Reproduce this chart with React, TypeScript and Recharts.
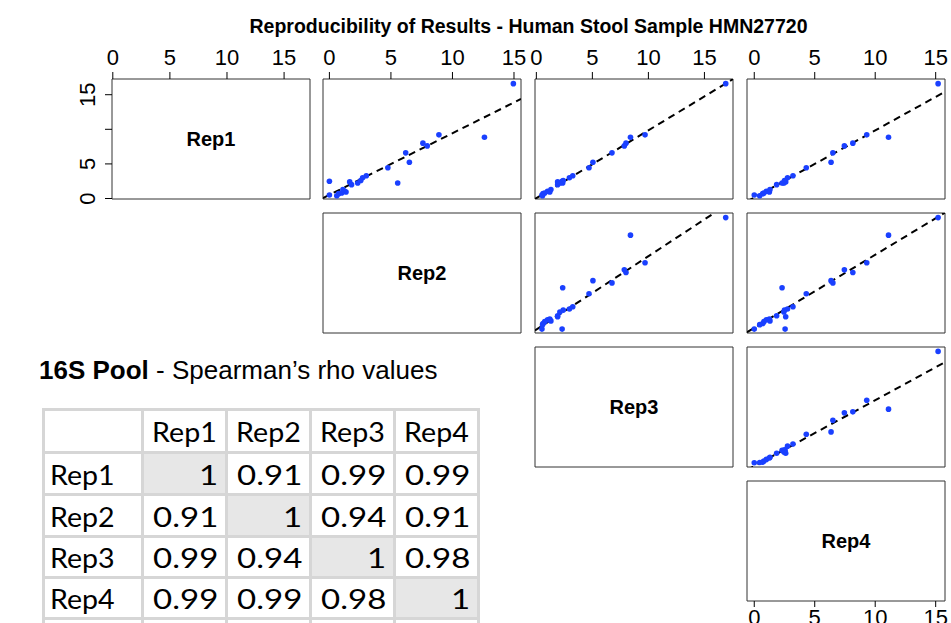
import React from "react";
import {
  ScatterChart,
  Scatter,
  XAxis,
  YAxis,
  ReferenceLine,
  ReferenceArea,
} from "recharts";

const FONT = "'Liberation Sans', Arial, Helvetica, sans-serif";
const TABLE_FONT = "Lato, 'Open Sans', sans-serif";

const reps = ["Rep1", "Rep2", "Rep3", "Rep4"];

// abundance of each taxon (same order in every replicate)
const rep1 = [16.6, 8.85, 9.2, 8.0, 7.6, 6.6, 5.25, 4.45, 2.25, 2.5, 3.3, 3.0, 2.6, 2.4, 2.0, 2.25, 0.5, 0.7, 1.05, 0.95, 0.8, 0.4, 1.3];
const rep2 = [14.95, 12.6, 8.9, 7.6, 7.95, 6.2, 6.5, 4.75, 5.55, 0.0, 3.0, 2.7, 2.55, 1.65, 1.8, 2.3, 0.0, 0.75, 1.25, 1.35, 1.0, 0.6, 1.1];
const rep3 = [16.9, 8.4, 9.7, 8.0, 7.85, 6.75, 5.05, 4.7, 2.35, 2.3, 3.25, 2.95, 2.4, 1.9, 1.9, 2.1, 0.5, 0.6, 1.0, 1.2, 0.75, 0.55, 1.3];
const rep4 = [15.2, 11.1, 9.3, 8.15, 7.45, 6.5, 6.35, 4.3, 2.3, 2.55, 3.2, 2.75, 2.5, 2.6, 1.85, 2.45, 0.0, 0.7, 1.0, 1.25, 0.8, 0.45, 1.3];
const repValues = [rep1, rep2, rep3, rep4];

// axis range of each replicate (pairs() style, 4% padding)
const domainLo = [-0.07, -0.52, -0.12, -0.6];
const domainHi = [17.27, 15.57, 17.55, 15.77];
const axisTicks = [0, 5, 10, 15];

// dashed fit lines of the upper panels (y = row replicate, x = col replicate)
const fitRows = [0, 0, 0, 1, 1, 2];
const fitCols = [1, 2, 3, 2, 3, 3];
const fitSlopes = [0.89, 0.98, 0.97, 0.985, 0.98, 0.97];
const fitIntercepts = [0.53, 0.05, 0.14, -0.07, 0.17, 0.02];

// Spearman's rho table
const rhoRep1 = [1, 0.91, 0.99, 0.99];
const rhoRep2 = [0.91, 1, 0.94, 0.91];
const rhoRep3 = [0.99, 0.94, 1, 0.98];
const rhoRep4 = [0.99, 0.99, 0.98, 1];
const rhoRows = [rhoRep1, rhoRep2, rhoRep3, rhoRep4];

// layout
const panelLeft = [112, 323, 535, 747];
const panelTop = [79, 213, 347, 481];
const PW = 198;
const PH = 120;

const colEdges = [43, 142, 226, 310, 394, 478];
const rowEdges = [409, 452, 494, 536, 577, 618, 660];

const Dot = (props: any) => (
  <circle cx={props.cx} cy={props.cy} r={2.8} fill="#1a40ff" />
);

// rotated tick labels on the left axis, R skips the "10" label (overlap)
const RotTick = (props: any) => {
  const { x, y, payload } = props;
  if (payload.value === 10) return null;
  return (
    <text
      transform={`translate(${x},${y}) rotate(-90)`}
      textAnchor="middle"
      fontSize={22}
      fontFamily={FONT}
      fill="#000"
    >
      {payload.value}
    </text>
  );
};

function Panel({ row, col }: { row: number; col: number }) {
  const hasTop = row === 0;
  const hasLeft = row === 0 && col === 0;
  const hasRight = col === 3;
  const hasBottom = row === 3 && col === 3;
  const mt = hasTop ? 40 : 0;
  const ml = hasLeft ? 45 : 0;
  const mr = hasRight ? 6 : 0;
  const mb = hasBottom ? 22 : 0;

  const xlo = domainLo[col];
  const xhi = domainHi[col];
  const ylo = domainLo[row];
  const yhi = domainHi[row];
  const diag = row === col;

  const points = diag
    ? []
    : repValues[col].map((v, i) => ({ x: v, y: repValues[row][i] }));

  const k = fitRows.findIndex((r, i) => r === row && fitCols[i] === col);
  const segment =
    k >= 0
      ? [
          { x: xlo, y: fitSlopes[k] * xlo + fitIntercepts[k] },
          { x: xhi, y: fitSlopes[k] * xhi + fitIntercepts[k] },
        ]
      : null;

  const tickStyle = { fontSize: 22, fill: "#000", fontFamily: FONT };

  return (
    <div
      style={{
        position: "absolute",
        left: panelLeft[col] - ml,
        top: panelTop[row] - mt,
      }}
    >
      <ScatterChart
        width={ml + PW + mr}
        height={mt + PH + mb}
        margin={{ top: 0, right: 0, bottom: 0, left: 0 }}
      >
        <XAxis
          xAxisId="top"
          type="number"
          dataKey="x"
          orientation="top"
          domain={[xlo, xhi]}
          allowDataOverflow
          ticks={axisTicks}
          interval={0}
          hide={!hasTop}
          height={mt}
          axisLine={false}
          tickLine={{ stroke: "#000" }}
          tickSize={7}
          tickMargin={7}
          tick={tickStyle}
        />
        <XAxis
          xAxisId="bottom"
          type="number"
          dataKey="x"
          orientation="bottom"
          domain={[xlo, xhi]}
          allowDataOverflow
          ticks={axisTicks}
          interval={0}
          hide={!hasBottom}
          height={mb}
          axisLine={false}
          tickLine={{ stroke: "#000" }}
          tickSize={6}
          tickMargin={2}
          tick={tickStyle}
        />
        <YAxis
          yAxisId="left"
          type="number"
          dataKey="y"
          orientation="left"
          domain={[ylo, yhi]}
          allowDataOverflow
          ticks={axisTicks}
          interval={0}
          hide={!hasLeft}
          width={ml}
          axisLine={false}
          tickLine={{ stroke: "#000" }}
          tickSize={7}
          tickMargin={10}
          tick={<RotTick />}
        />
        <YAxis
          yAxisId="right"
          type="number"
          dataKey="y"
          orientation="right"
          domain={[ylo, yhi]}
          allowDataOverflow
          ticks={axisTicks}
          interval={0}
          hide={!hasRight}
          width={mr}
          axisLine={false}
          tickLine={{ stroke: "#000" }}
          tickSize={6}
          tick={false}
        />
        <ReferenceArea
          xAxisId="top"
          yAxisId="left"
          x1={xlo}
          x2={xhi}
          y1={ylo}
          y2={yhi}
          fill="#fff"
          fillOpacity={0}
          stroke="#333"
          strokeWidth={1}
          ifOverflow="visible"
          label={
            diag
              ? {
                  value: reps[row],
                  position: "center",
                  fontSize: 20,
                  fontWeight: "bold",
                  fill: "#000",
                  fontFamily: FONT,
                }
              : undefined
          }
        />
        {segment && (
          <ReferenceLine
            xAxisId="top"
            yAxisId="left"
            segment={segment}
            stroke="#000"
            strokeWidth={2}
            strokeDasharray="7 5"
            ifOverflow="hidden"
          />
        )}
        <Scatter
          xAxisId="top"
          yAxisId="left"
          data={points}
          shape={Dot}
          isAnimationActive={false}
        />
      </ScatterChart>
    </div>
  );
}

function RhoTable() {
  const cells: React.ReactNode[] = [];
  for (let r = 0; r < rowEdges.length - 1; r++) {
    for (let c = 0; c < colEdges.length - 1; c++) {
      const left = colEdges[c] + 1.5;
      const top = rowEdges[r] + 1.5;
      const w = colEdges[c + 1] - colEdges[c] - 3;
      const h = rowEdges[r + 1] - rowEdges[r] - 3;
      const isDiag = r >= 1 && r <= 4 && r === c;
      let content: React.ReactNode = null;
      let align: "left" | "right" | "center" = "right";
      if (r === 0 && c >= 1) {
        content = (
          <span
            style={{
              display: "inline-block",
              transform: "scaleX(1.1)",
              transformOrigin: "center",
            }}
          >
            {reps[c - 1]}
          </span>
        );
        align = "center";
      } else if (r >= 1 && r <= 4 && c === 0) {
        content = (
          <span
            style={{
              display: "inline-block",
              transform: "scaleX(1.1)",
              transformOrigin: "left center",
            }}
          >
            {reps[r - 1]}
          </span>
        );
        align = "left";
      } else if (r >= 1 && r <= 4) {
        content = (
          <span
            style={{
              display: "inline-block",
              transform: "scaleX(1.27)",
              transformOrigin: "right center",
            }}
          >
            {rhoRows[r - 1][c - 1]}
          </span>
        );
      }
      cells.push(
        <div
          key={`${r}-${c}`}
          style={{
            position: "absolute",
            left,
            top,
            width: w,
            height: h,
            background: isDiag ? "#e7e7e7" : "#fff",
            boxSizing: "border-box",
            paddingLeft: align === "left" ? 5 : 0,
            paddingRight: align === "right" ? 6 : 0,
            paddingTop: 3,
            textAlign: align,
            fontFamily: TABLE_FONT,
            fontSize: 26,
            lineHeight: `${h - 3}px`,
            color: "#000",
            whiteSpace: "nowrap",
          }}
        >
          {content}
        </div>
      );
    }
  }
  return (
    <>
      <div
        style={{
          position: "absolute",
          left: colEdges[0] - 1.5,
          top: rowEdges[0] - 1.5,
          width: colEdges[colEdges.length - 1] - colEdges[0] + 3,
          height: rowEdges[rowEdges.length - 1] - rowEdges[0] + 3,
          background: "#d6d6d6",
        }}
      />
      {cells}
    </>
  );
}

export default function App() {
  const panels: React.ReactNode[] = [];
  for (let r = 0; r < 4; r++) {
    for (let c = r; c < 4; c++) {
      panels.push(<Panel key={`${r}-${c}`} row={r} col={c} />);
    }
  }
  return (
    <div
      style={{
        position: "absolute",
        left: 0,
        top: 0,
        width: 951,
        height: 623,
        overflow: "hidden",
        background: "#fff",
      }}
    >
      <style>{`.recharts-surface { overflow: visible; }`}</style>
      <div
        style={{
          position: "absolute",
          left: 228.5,
          top: 16,
          width: 600,
          textAlign: "center",
          fontFamily: FONT,
          fontWeight: "bold",
          fontSize: 19.5,
          lineHeight: "20px",
          color: "#000",
          whiteSpace: "nowrap",
        }}
      >
        Reproducibility of Results - Human Stool Sample HMN27720
      </div>
      {panels}
      <div
        style={{
          position: "absolute",
          left: 39,
          top: 355,
          fontFamily: FONT,
          fontSize: 26,
          lineHeight: "30px",
          color: "#000",
          whiteSpace: "nowrap",
        }}
      >
        <b>16S Pool</b> - Spearman’s rho values
      </div>
      <RhoTable />
    </div>
  );
}
